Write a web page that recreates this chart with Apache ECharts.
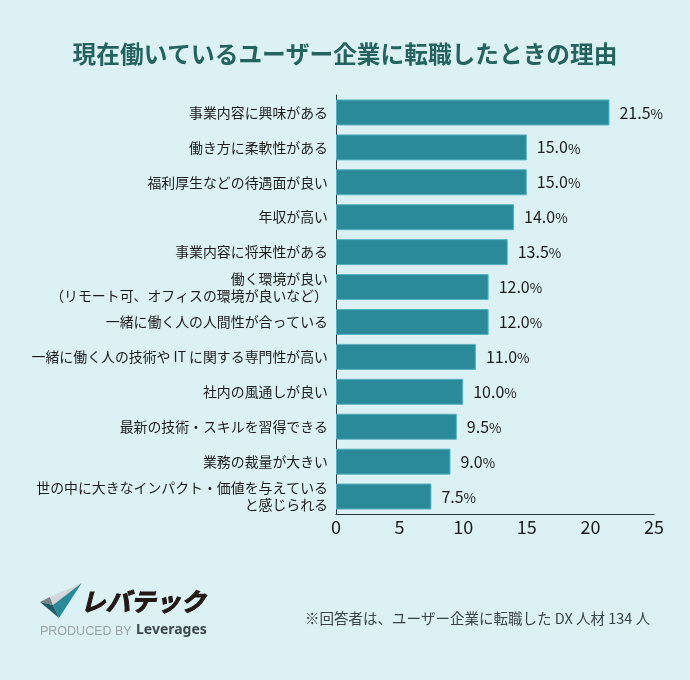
<!DOCTYPE html>
<html>
<head>
<meta charset="utf-8">
<style>html,body{margin:0;padding:0;background:#dcf1f3}#main{width:690px;height:680px}</style>
<script src="https://cdn.jsdelivr.net/npm/echarts@6/dist/echarts.min.js"></script>
</head>
<body>
<div id="main"></div>
<script>
const categories = [
  '事業内容に興味がある',
  '働き方に柔軟性がある',
  '福利厚生などの待遇面が良い',
  '年収が高い',
  '事業内容に将来性がある',
  '働く環境が良い\n（リモート可、オフィスの環境が良いなど）',
  '一緒に働く人の人間性が合っている',
  '一緒に働く人の技術や IT に関する専門性が高い',
  '社内の風通しが良い',
  '最新の技術・スキルを習得できる',
  '業務の裁量が大きい',
  '世の中に大きなインパクト・価値を与えている\nと感じられる'
];
const values = [21.5, 15.0, 15.0, 14.0, 13.5, 12.0, 12.0, 11.0, 10.0, 9.5, 9.0, 7.5];
const ticks = [0, 5, 10, 15, 20, 25];

const font = '"Noto Sans CJK JP", "Noto Sans", sans-serif';
const chart = echarts.init(document.getElementById('main'));

chart.setOption({
  backgroundColor: '#dcf1f3',
  animation: false,
  title: {
    text: '現在働いているユーザー企業に転職したときの理由',
    left: 'center',
    top: 37,
    textStyle: { fontFamily: font, fontSize: 23.7, fontWeight: 'bold', color: '#24635f' }
  },
  grid: { left: 336, right: 36, top: 95, bottom: 166 },
  xAxis: {
    type: 'value',
    min: ticks[0],
    max: ticks[ticks.length - 1],
    interval: 5,
    splitLine: { show: false },
    axisTick: { show: false },
    axisLine: { show: true, lineStyle: { color: '#2b3a42', width: 1 } },
    axisLabel: { fontFamily: font, fontSize: 18, color: '#1c1c1c', margin: 4 }
  },
  yAxis: {
    type: 'category',
    inverse: true,
    data: categories,
    axisTick: { show: false },
    axisLine: { show: true, lineStyle: { color: '#2b3a42', width: 1 } },
    axisLabel: { fontFamily: font, fontSize: 13.9, lineHeight: 17, color: '#1c1c1c', margin: 8, align: 'right', interval: 0 }
  },
  series: [{
    type: 'bar',
    data: values,
    barWidth: 26,
    itemStyle: { color: '#2a8a9a', borderColor: '#58b3c0', borderWidth: 1 },
    label: {
      show: true,
      position: 'right',
      distance: 10,
      formatter: p => '{n|' + p.value.toFixed(1) + '}{p|%}',
      rich: {
        n: { fontFamily: font, fontSize: 16, color: '#1c1c1c' },
        p: { fontFamily: font, fontSize: 13.5, color: '#1c1c1c', padding: [2, 0, 0, 0] }
      }
    }
  }],
  graphic: [
    { type: 'polygon', shape: { points: [[40, 602], [50, 597], [53, 605]] }, style: { fill: '#7d8488' } },
    { type: 'polygon', shape: { points: [[50, 597], [81.7, 583], [53, 605]] }, style: { fill: '#d3d7d9' } },
    { type: 'polygon', shape: { points: [[53, 605], [81.7, 583], [59, 618]] }, style: { fill: '#2a8a9a' } },
    { type: 'polygon', shape: { points: [[40, 602], [53, 605], [59, 618]] }, style: { fill: '#1f5c68' } },
    { type: 'text', left: 80, top: 588, style: { text: 'レバテック', fontFamily: font, fontSize: 25, fontWeight: 'bold', fontStyle: 'italic', fill: '#231815', stroke: '#231815', lineWidth: 1 } },
    { type: 'text', left: 40, top: 625, style: { text: 'PRODUCED BY', fontFamily: '"Liberation Sans", sans-serif', fontSize: 12.5, fill: '#9aa3a6' } },
    { type: 'text', left: 136, top: 623, style: { text: 'Leverages', fontFamily: '"Noto Sans", sans-serif', fontSize: 14, fontWeight: 'bold', fill: '#3d4a50' } },
    { type: 'text', left: 305, top: 611, style: { text: '※回答者は、ユーザー企業に転職した DX 人材 134 人', fontFamily: font, fontSize: 14.5, fill: '#3a4448' } }
  ]
});
</script>
</body>
</html>
